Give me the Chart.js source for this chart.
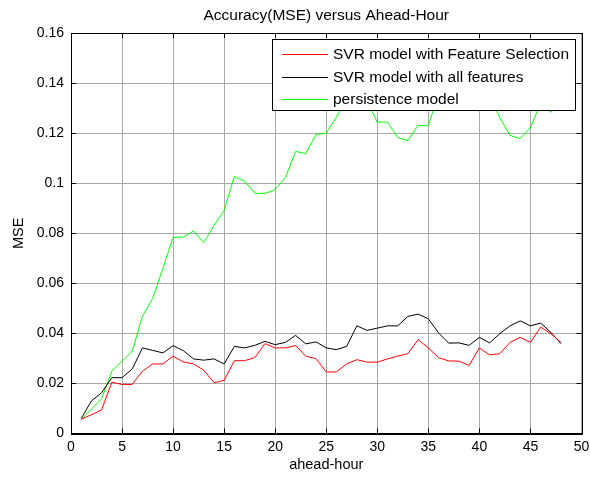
<!DOCTYPE html>
<html>
<head>
<meta charset="utf-8">
<script src="https://cdn.jsdelivr.net/npm/chart.js@4/dist/chart.umd.min.js"></script>
<style>
  html, body { margin: 0; padding: 0; background: #ffffff; }
  #wrap { width: 590px; height: 479px; }
</style>
</head>
<body>
<div id="wrap"><canvas id="c" width="590" height="479"></canvas></div>
<script>
// ---- data ----
const chartTitle = "Accuracy(MSE) versus Ahead-Hour";
const xAxisTitle = "ahead-hour";
const yAxisTitle = "MSE";
const seriesNames = ["SVR model with Feature Selection", "SVR model with all features", "persistence model"];

const hours = [1,2,3,4,5,6,7,8,9,10,11,12,13,14,15,16,17,18,19,20,21,22,23,24,
               25,26,27,28,29,30,31,32,33,34,35,36,37,38,39,40,41,42,43,44,45,46,47,48];

const svrFeatureSelection = [0.0057,0.0075,0.0094,0.0205,0.0196,0.0196,0.0249,0.0278,0.0278,0.0309,0.0286,0.0278,
  0.0253,0.0203,0.0212,0.0291,0.0291,0.0303,0.0359,0.0342,0.0342,0.0351,0.0309,0.0299,
  0.0246,0.0246,0.0278,0.0295,0.0285,0.0285,0.0298,0.0309,0.0319,0.0375,0.0342,0.0303,
  0.0290,0.0289,0.0272,0.0342,0.0314,0.0319,0.0364,0.0384,0.0364,0.0425,0.0399,0.0364];

const svrAllFeatures = [0.0060,0.0130,0.0163,0.0223,0.0223,0.0258,0.0342,0.0332,0.0322,0.0351,0.0331,0.0298,
  0.0293,0.0298,0.0278,0.0348,0.0342,0.0352,0.0368,0.0355,0.0364,0.0392,0.0358,0.0366,
  0.0342,0.0335,0.0348,0.0430,0.0412,0.0421,0.0430,0.0430,0.0468,0.0477,0.0458,0.0402,
  0.0361,0.0362,0.0352,0.0384,0.0362,0.0399,0.0430,0.0450,0.0430,0.0441,0.0404,0.0359];

const persistence = [0.0056,0.0097,0.0139,0.0249,0.0289,0.0328,0.0468,0.0540,0.0660,0.0783,0.0785,0.0809,
  0.0763,0.0830,0.0891,0.1027,0.1009,0.0960,0.0959,0.0974,0.1022,0.1127,0.1118,0.1195,
  0.1199,0.1264,0.1340,0.1360,0.1330,0.1244,0.1244,0.1182,0.1170,0.1231,0.1229,0.1360,
  0.1380,0.1370,0.1350,0.1340,0.1340,0.1262,0.1191,0.1178,0.1222,0.1320,0.1283,0.1340];

const xTickStep = 5, xMin = 0, xMax = 50;
const yTickStep = 0.02, yMin = 0, yMax = 0.16;

// ---- styling ----
const FONT = "'Liberation Sans', Arial, Helvetica, sans-serif";
const colors = ["#ff0000", "#000000", "#00ff00"];
const seriesValues = [svrFeatureSelection, svrAllFeatures, persistence];

const datasets = seriesNames.map((name, k) => ({
  label: name,
  data: hours.map((h, i) => ({ x: h, y: seriesValues[k][i] })),
  borderColor: colors[k],
  backgroundColor: colors[k],
  borderWidth: 1,
  pointRadius: 0,
  tension: 0,
  fill: false
}));

// centre the title over the axes (MATLAB style)
const titleOverAxes = {
  id: 'titleOverAxes',
  afterLayout(chart) {
    const tb = chart.titleBlock;
    if (tb) {
      tb.left = chart.chartArea.left;
      tb.right = chart.chartArea.right;
      tb.width = tb.right - tb.left;
    }
  }
};

// box, inner ticks and in-plot legend (MATLAB style)
const matlabFrame = {
  id: 'matlabFrame',
  afterDatasetsDraw(chart) {
    const ctx = chart.ctx;
    const a = chart.chartArea;
    const xs = chart.scales.x, ys = chart.scales.y;
    ctx.save();
    ctx.strokeStyle = '#000';
    ctx.lineWidth = 1;
    const tl = 5;
    ctx.beginPath();
    xs.ticks.forEach(t => {
      const px = Math.round(xs.getPixelForValue(t.value)) + 0.5;
      ctx.moveTo(px, a.bottom); ctx.lineTo(px, a.bottom - tl);
      ctx.moveTo(px, a.top); ctx.lineTo(px, a.top + tl);
    });
    ys.ticks.forEach(t => {
      const py = Math.round(ys.getPixelForValue(t.value)) + 0.5;
      ctx.moveTo(a.left, py); ctx.lineTo(a.left + tl, py);
      ctx.moveTo(a.right, py); ctx.lineTo(a.right - tl, py);
    });
    ctx.stroke();
    ctx.beginPath();
    ctx.rect(Math.round(a.left) + 0.5, Math.round(a.top) + 0.5,
             Math.round(a.right - a.left), Math.round(a.bottom - a.top));
    ctx.stroke();

    // legend inside the axes, top-right
    const lx = 272.5, ly = 39.5, lw = 303, lh = 71;
    ctx.fillStyle = '#fff';
    ctx.fillRect(lx, ly, lw, lh);
    ctx.strokeStyle = '#000';
    ctx.lineWidth = 1;
    ctx.strokeRect(lx, ly, lw, lh);
    ctx.font = "15.5px " + FONT;
    ctx.textBaseline = 'middle';
    ctx.textAlign = 'left';
    chart.data.datasets.forEach((ds, i) => {
      const y = 54 + i * 22.5;
      ctx.strokeStyle = colors[i];
      ctx.lineWidth = 1;
      ctx.beginPath();
      ctx.moveTo(282, Math.round(y) + 0.5);
      ctx.lineTo(328, Math.round(y) + 0.5);
      ctx.stroke();
      ctx.fillStyle = '#000';
      ctx.fillText(ds.label, 333, y + 1);
    });
    ctx.restore();
  }
};

new Chart(document.getElementById('c'), {
  type: 'line',
  data: { datasets },
  options: {
    responsive: false,
    animation: false,
    devicePixelRatio: 1,
    layout: { padding: { left: 0, right: 8.5, top: 0, bottom: 0 } },
    plugins: {
      legend: { display: false },
      tooltip: { enabled: false },
      title: {
        display: true,
        text: chartTitle,
        color: '#000',
        font: { family: FONT, size: 15.5, weight: 'normal' },
        padding: { top: 6, bottom: 8.4 }
      }
    },
    scales: {
      x: {
        type: 'linear',
        min: xMin, max: xMax,
        afterFit(scale) {
          scale.height = 45.5;
          scale.paddingLeft = 0;
          scale.paddingRight = 0;
        },
        ticks: {
          stepSize: xTickStep,
          color: '#000',
          font: { family: FONT, size: 14 },
          padding: 5,
          maxRotation: 0,
          autoSkip: false
        },
        grid: { color: '#a8a8a8', lineWidth: 1, drawTicks: false },
        border: { color: '#000', width: 1 },
        title: {
          display: true,
          text: xAxisTitle,
          color: '#000',
          font: { family: FONT, size: 14.5 },
          padding: { top: 0, bottom: 5 }
        }
      },
      y: {
        type: 'linear',
        min: yMin, max: yMax,
        afterFit(scale) {
          scale.width = 71;
          scale.paddingTop = 0;
          scale.paddingBottom = 0;
        },
        ticks: {
          stepSize: yTickStep,
          color: '#000',
          font: { family: FONT, size: 14 },
          padding: 7,
          callback: v => parseFloat(Number(v).toFixed(2)).toString()
        },
        grid: { color: '#a8a8a8', lineWidth: 1, drawTicks: false },
        border: { color: '#000', width: 1 },
        title: {
          display: true,
          text: yAxisTitle,
          color: '#000',
          font: { family: FONT, size: 14.5 },
          padding: { top: 10, bottom: 0 }
        }
      }
    }
  },
  plugins: [titleOverAxes, matlabFrame]
});
</script>
</body>
</html>
